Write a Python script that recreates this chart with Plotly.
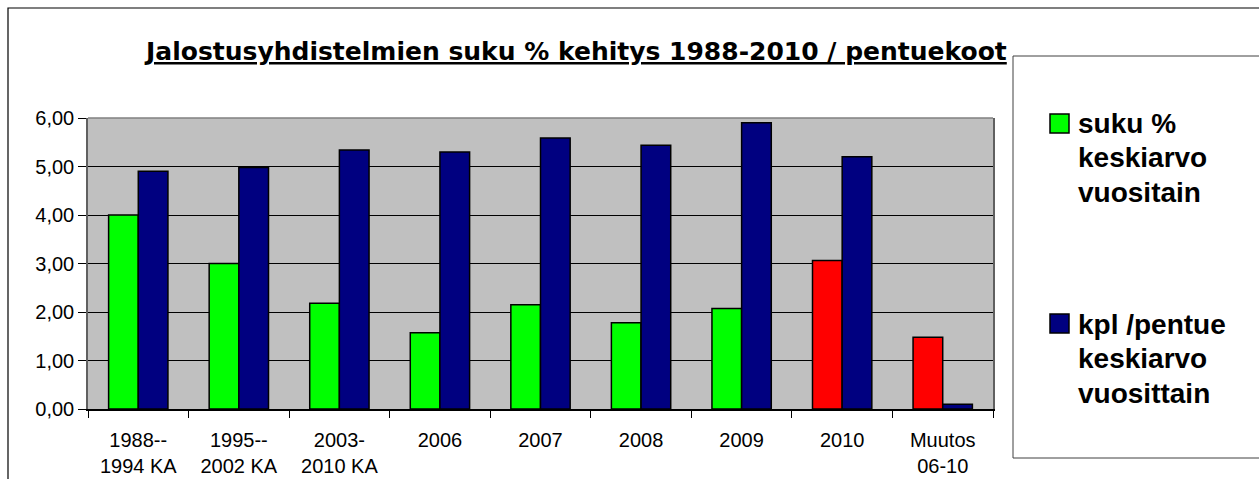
import plotly.graph_objects as go

categories = ["1988--<br>1994 KA", "1995--<br>2002 KA", "2003-<br>2010 KA", "2006", "2007",
              "2008", "2009", "2010", "Muutos<br>06-10"]
suku_values = [4.00, 3.00, 2.18, 1.57, 2.15, 1.78, 2.07, 3.06, 1.48]
kpl_values = [4.90, 4.98, 5.34, 5.30, 5.59, 5.44, 5.90, 5.20, 0.10]
suku_colors = ["#00FF00"] * 7 + ["#FF0000"] * 2
kpl_color = "#000080"
title_text = "Jalostusyhdistelmien suku % kehitys 1988-2010 / pentuekoot"
legend_lines_1 = ["suku %", "keskiarvo", "vuositain"]
legend_lines_2 = ["kpl /pentue", "keskiarvo", "vuosittain"]

W, H = 1259, 479
L, R, T, B = 88, 993, 118, 409


def X(px):
    return (px - L) / (R - L)


def Y(py):
    return (B - py) / (B - T)


fig = go.Figure()
fig.add_trace(go.Bar(x=categories, y=suku_values, name="suku % keskiarvo vuositain",
                     marker=dict(color=suku_colors, line=dict(color="black", width=1.5))))
fig.add_trace(go.Bar(x=categories, y=kpl_values, name="kpl /pentue keskiarvo vuosittain",
                     marker=dict(color=kpl_color, line=dict(color="black", width=1.5))))

shapes = [
    # outer chart border
    dict(type="rect", xref="paper", yref="paper", x0=X(8), x1=X(1300), y0=Y(8), y1=Y(520),
         line=dict(color="black", width=1.2), fillcolor="rgba(0,0,0,0)", layer="below"),
    # legend box
    dict(type="rect", xref="paper", yref="paper", x0=X(1013), x1=X(1300), y0=Y(56), y1=Y(458),
         line=dict(color="#404040", width=1), fillcolor="white", layer="below"),
    # top border of plot area
    dict(type="line", xref="paper", yref="paper", x0=0, x1=1, y0=1, y1=1,
         line=dict(color="#808080", width=1.5)),
    # legend squares
    dict(type="rect", xref="paper", yref="paper", x0=X(1050), x1=X(1069), y0=Y(114), y1=Y(133),
         line=dict(color="black", width=1.5), fillcolor="#00FF00"),
    dict(type="rect", xref="paper", yref="paper", x0=X(1050), x1=X(1069), y0=Y(314), y1=Y(333),
         line=dict(color="black", width=1.5), fillcolor=kpl_color),
]

annotations = [
    dict(text="<b><u>" + title_text + "</u></b>", xref="paper", yref="paper",
         x=X(575), y=Y(52), xanchor="center", yanchor="middle", showarrow=False,
         font=dict(family="DejaVu Sans", size=25, color="black")),
]
for i, line in enumerate(legend_lines_1):
    annotations.append(dict(text="<b>" + line + "</b>", xref="paper", yref="paper",
                            x=X(1076), y=Y(123 + 34.5 * i), xanchor="left", yanchor="middle",
                            showarrow=False,
                            font=dict(family="Liberation Sans", size=28, color="black")))
for i, line in enumerate(legend_lines_2):
    annotations.append(dict(text="<b>" + line + "</b>", xref="paper", yref="paper",
                            x=X(1076), y=Y(324 + 34.5 * i), xanchor="left", yanchor="middle",
                            showarrow=False,
                            font=dict(family="Liberation Sans", size=28, color="black")))

fig.update_layout(
    width=W, height=H,
    autosize=False,
    margin=dict(l=L, r=W - R, t=T, b=H - B, pad=0, autoexpand=False),
    paper_bgcolor="white",
    plot_bgcolor="#C0C0C0",
    barmode="group",
    bargap=0.41,
    bargroupgap=0,
    showlegend=False,
    separators=",.",
    font=dict(family="Liberation Sans", size=20, color="black"),
    shapes=shapes,
    annotations=annotations,
    xaxis=dict(showgrid=False, showline=True, linecolor="black", linewidth=1.5,
               ticks="outside", tickson="boundaries", ticklen=7, tickcolor="black",
               tickfont=dict(size=20), ticklabelstandoff=12, fixedrange=True,
               automargin=False),
    yaxis=dict(range=[0, 6], dtick=1, tickformat=".2f", showgrid=True, gridcolor="black",
               gridwidth=1, showline=True, linecolor="#606060", linewidth=1.5, mirror=True,
               ticks="outside", ticklen=8, tickcolor="black", tickfont=dict(size=20),
               zeroline=False, ticklabelstandoff=0, fixedrange=True, automargin=False),
)

fig.write_html("out.html", config={"displayModeBar": False},
               post_script="document.body.style.margin='0';document.body.style.overflow='hidden';")
